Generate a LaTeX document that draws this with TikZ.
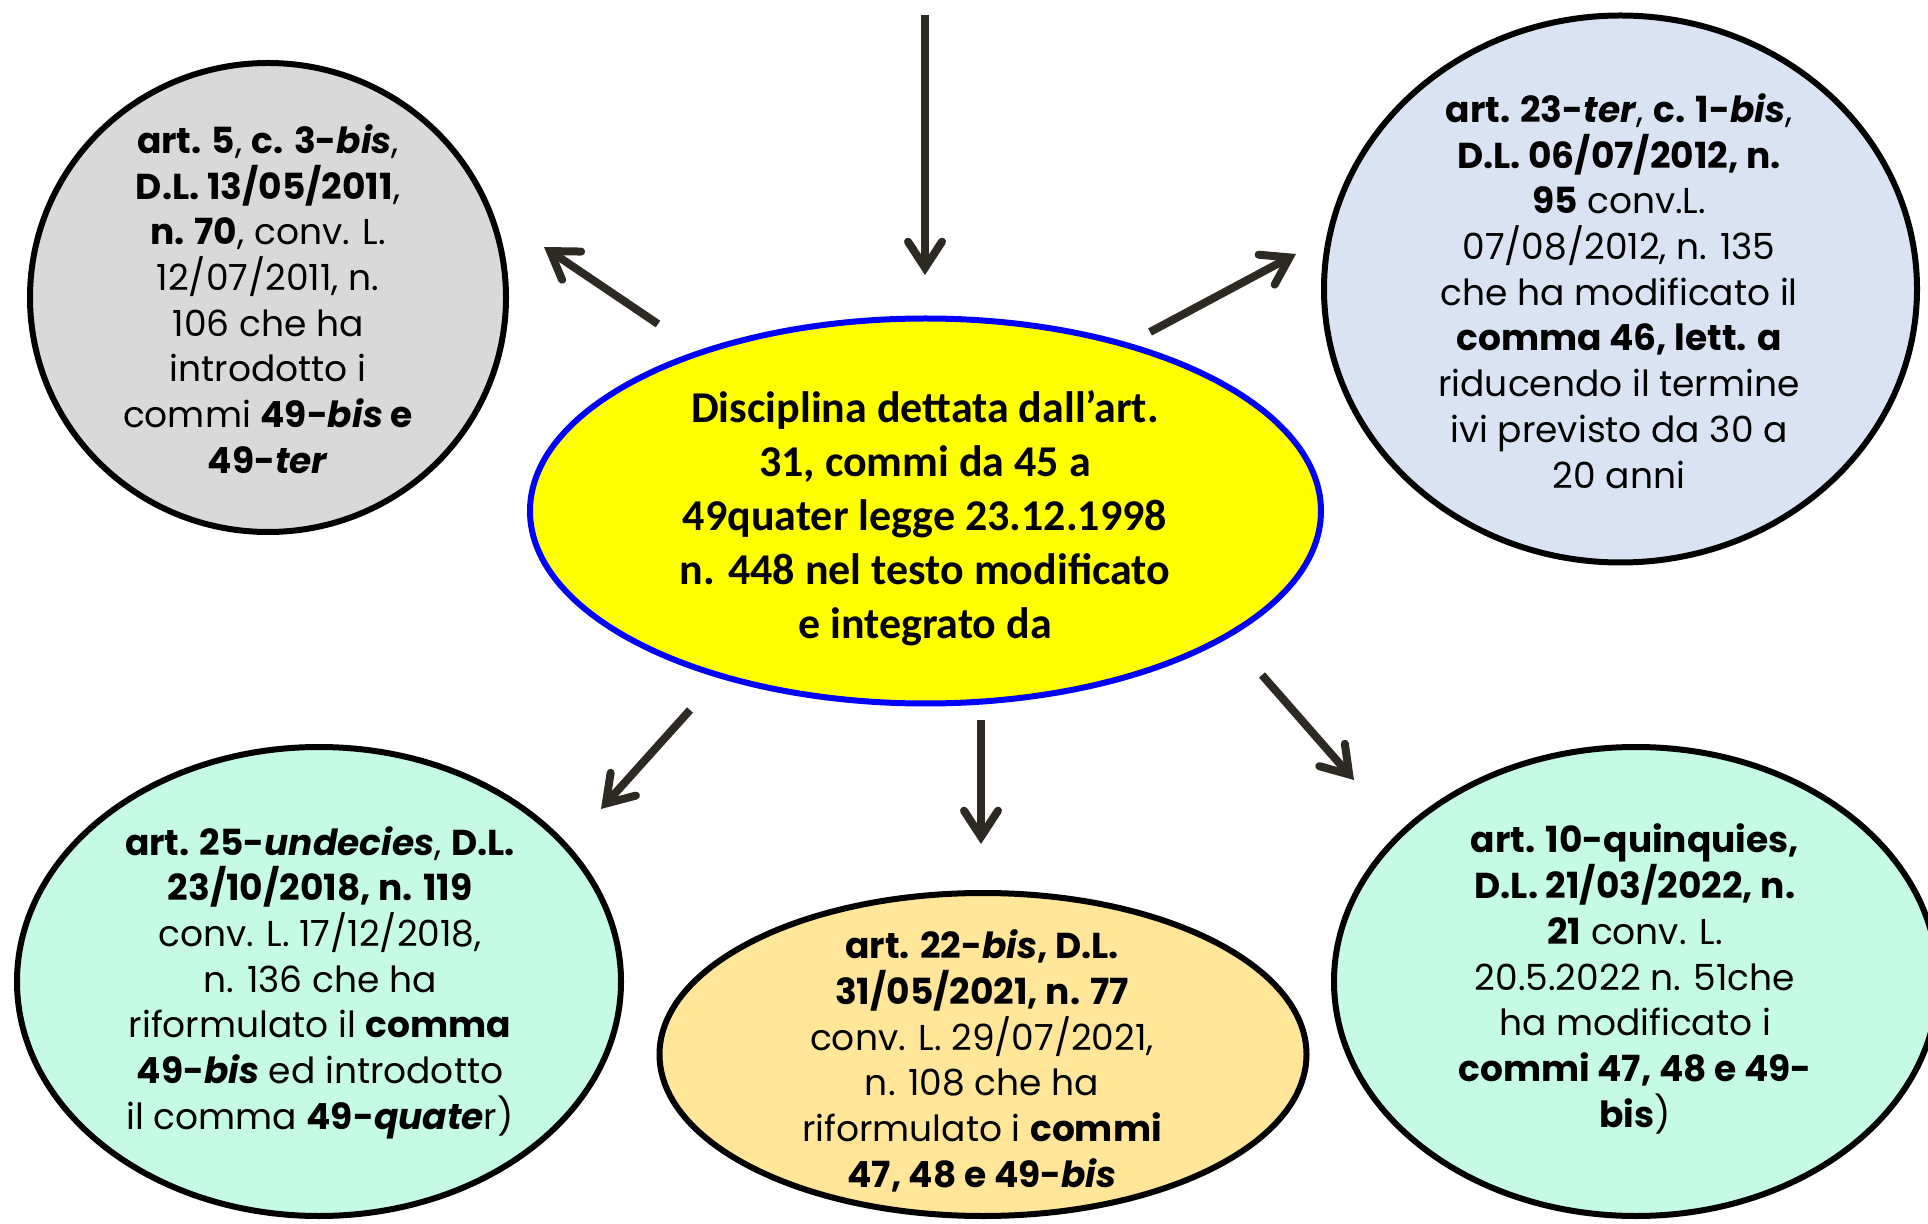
\documentclass[tikz,border=0pt]{standalone}
\usepackage{fontspec}
\setmainfont{Carlito}
\newfontfamily\gothic{Poppins}
\newfontfamily\cali{Carlito}
\usetikzlibrary{arrows.meta,shapes.geometric}
\definecolor{grayfill}{RGB}{217,217,217}
\definecolor{bluefill}{RGB}{218,227,243}
\definecolor{mintfill}{RGB}{197,250,228}
\definecolor{orangefill}{RGB}{255,230,153}
\definecolor{arrowc}{RGB}{45,42,35}
\definecolor{pureyellow}{RGB}{255,255,0}
\definecolor{pureblue}{RGB}{0,0,255}
\begin{document}
\begin{tikzpicture}[x=0.5pt,y=-0.5pt,
  bubble/.style={ellipse, draw=black, line width=3pt, inner sep=0pt},
  btext/.style={align=center, inner sep=0pt, font=\gothic\fontsize{18}{22.85}\selectfont},
  ctext/.style={align=center, inner sep=0pt, font=\cali\bfseries\fontsize{22}{27}\selectfont},
  arr/.style={draw=arrowc, line width=4pt, -{Straight Barb[length=13pt,width=17pt,line cap=round,line join=miter]}}
]
\useasboundingbox (0,0) rectangle (1928,1224);
\fill[white] (0,0) rectangle (1928,1224);

\node[bubble, fill=grayfill, minimum width=238pt, minimum height=234.5pt] (gray) at (268,297.5) {};
\node[bubble, fill=bluefill, minimum width=296.5pt, minimum height=273.5pt] (blue) at (1620.5,289) {};
\node[bubble, draw=pureblue, line width=3pt, fill=pureyellow, minimum width=395.5pt, minimum height=192.5pt] (center) at (925.5,511) {};
\node[bubble, fill=mintfill, minimum width=302pt, minimum height=234.5pt] (mintl) at (319,981.5) {};
\node[bubble, fill=orangefill, minimum width=323.5pt, minimum height=161.5pt] (orange) at (983,1054.5) {};
\node[bubble, fill=mintfill, minimum width=302pt, minimum height=234.5pt] (mintr) at (1636,981.5) {};

\node[btext] (tgray) at (268,299) {\textbf{art. 5}, \textbf{c. 3-\textit{bis}},\\ \textbf{D.L. 13/05/2011},\\ \textbf{n. 70}, conv. L.\\ 12/07/2011, n.\\ 106 che ha\\ introdotto i\\ commi \textbf{49-\textit{bis} e}\\ \textbf{49-\textit{ter}}};

\node[btext] (tblue) at (1619,291) {\textbf{art. 23-\textit{ter}}, \textbf{c. 1-\textit{bis}},\\ \textbf{D.L. 06/07/2012, n.}\\ \textbf{95} conv.L.\\ 07/08/2012, n. 135\\ che ha modificato il\\ \textbf{comma 46, lett. a}\\ riducendo il termine\\ ivi previsto da 30 a\\ 20 anni};

\node[ctext] (tcenter) at (925,518) {Disciplina dettata dall’art.\\ 31, commi da 45 a\\ 49quater legge 23.12.1998\\ n. 448 nel testo modificato\\ e integrato da};

\node[btext] (tmintl) at (320,982.5) {\textbf{art. 25-\textit{undecies}}, \textbf{D.L.}\\ \textbf{23/10/2018, n. 119}\\ conv. L. 17/12/2018,\\ n. 136 che ha\\ riformulato il \textbf{comma}\\ \textbf{49-\textit{bis}} ed introdotto\\ il comma \textbf{49-\textit{quate}}r)};

\node[btext] (torange) at (982,1061) {\textbf{art. 22-\textit{bis}, D.L.}\\ \textbf{31/05/2021, n. 77}\\ conv. L. 29/07/2021,\\ n. 108 che ha\\ riformulato i \textbf{commi}\\ \textbf{47, 48 e 49-\textit{bis}}};

\node[btext] (tmintr) at (1635,979) {\textbf{art. 10-quinquies,}\\ \textbf{D.L. 21/03/2022, n.}\\ \textbf{21} conv. L.\\ 20.5.2022 n. 51che\\ ha modificato i\\ \textbf{commi 47, 48 e 49-}\\ \textbf{bis})};

\coordinate (a0s) at (925,15);
\coordinate (a0e) at (925,275);
\coordinate (a1s) at (658,324);
\coordinate (a1e) at (544,247);
\coordinate (a2s) at (1150,332);
\coordinate (a2e) at (1296,254);
\coordinate (a3s) at (690,710);
\coordinate (a3e) at (601,809);
\coordinate (a4s) at (981,720);
\coordinate (a4e) at (981,844);
\coordinate (a5s) at (1262,675);
\coordinate (a5e) at (1354,780);

\draw[arr] (a0s) -- (a0e);
\draw[arr] (a1s) -- (a1e);
\draw[arr] (a2s) -- (a2e);
\draw[arr] (a3s) -- (a3e);
\draw[arr] (a4s) -- (a4e);
\draw[arr] (a5s) -- (a5e);
\end{tikzpicture}
\end{document}
